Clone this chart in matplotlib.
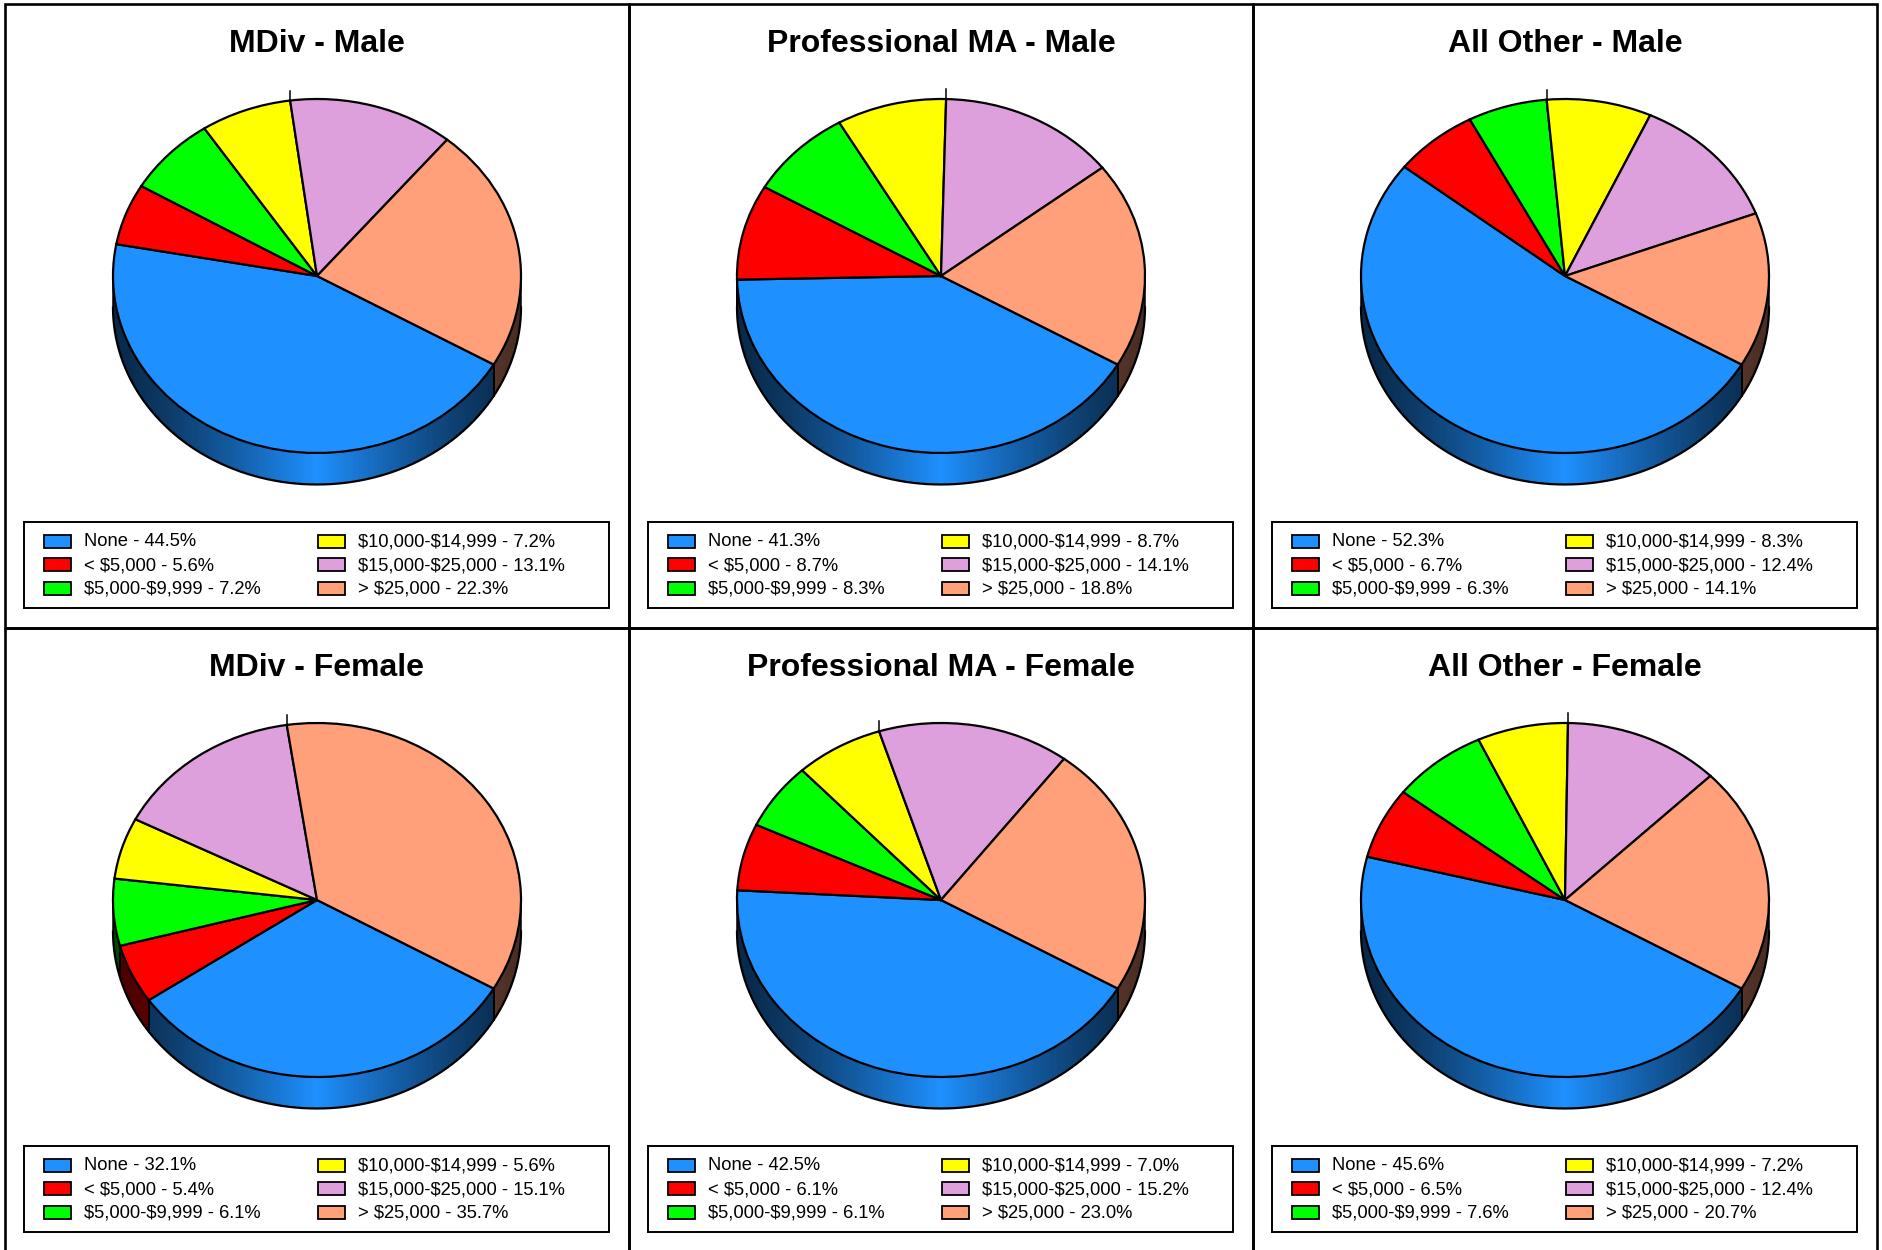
import numpy as np
import matplotlib
matplotlib.use('Agg')
import matplotlib.pyplot as plt
from matplotlib.collections import PolyCollection
from matplotlib.colors import to_rgb
from matplotlib.patches import Rectangle

plt.rcParams['font.family'] = ['Liberation Sans', 'DejaVu Sans']

categories = ['None', '< $5,000', '$5,000-$9,999', '$10,000-$14,999', '$15,000-$25,000', '> $25,000']
colors = ['#1E90FF', '#FF0000', '#00FF00', '#FFFF00', '#DDA0DD', '#FFA07A']

titles = ['MDiv - Male', 'Professional MA - Male', 'All Other - Male',
          'MDiv - Female', 'Professional MA - Female', 'All Other - Female']

mdiv_male = [44.5, 5.6, 7.2, 7.2, 13.1, 22.3]
prof_male = [41.3, 8.7, 8.3, 8.7, 14.1, 18.8]
other_male = [52.3, 6.7, 6.3, 8.3, 12.4, 14.1]
mdiv_female = [32.1, 5.4, 6.1, 5.6, 15.1, 35.7]
prof_female = [42.5, 6.1, 6.1, 7.0, 15.2, 23.0]
other_female = [45.6, 6.5, 7.6, 7.2, 12.4, 20.7]
panels = [mdiv_male, prof_male, other_male, mdiv_female, prof_female, other_female]

W, H = 1882, 1250
CELL = 624
RX, RY = 204, 177
DEPTH = 31.5 / RY
START = -30
LW = 1.6

fig = plt.figure(figsize=(W / 100, H / 100), dpi=100, facecolor='white')


def shade(x):
    # walls are brightest under the middle of the pie
    return 0.28 + 0.72 * (1 - abs(x)) ** 1.3


def draw_pie(ax, values):
    ax.pie(values, colors=colors, startangle=START, counterclock=False, radius=1,
           wedgeprops=dict(edgecolor='black', linewidth=LW, zorder=3))
    ax.set_aspect('auto')

    sweep = np.array(values) / sum(values) * 360
    ends = START - np.cumsum(sweep)
    starts = ends + sweep

    # side wall, only the part of each slice facing down
    for a0, a1, col in zip(starts, ends, colors):
        for low, high in [(-180, 0), (-540, -360)]:
            lo, hi = max(a1, low), min(a0, high)
            if hi <= lo:
                continue
            th = np.radians(np.linspace(lo, hi, int((hi - lo) * 2) + 2))
            x, y = np.cos(th), np.sin(th)
            polys = [[(x[i], y[i]), (x[i + 1], y[i + 1]), (x[i + 1], y[i + 1] - DEPTH), (x[i], y[i] - DEPTH)]
                     for i in range(len(th) - 1)]
            rgb = np.array(to_rgb(col))
            fc = [rgb * shade((x[i] + x[i + 1]) / 2) for i in range(len(th) - 1)]
            ax.add_collection(PolyCollection(polys, facecolors=fc, edgecolors='none', linewidths=0,
                                             antialiaseds=False, zorder=1))
            for edge in [th[0], th[-1]]:
                ax.plot([np.cos(edge)] * 2, [np.sin(edge), np.sin(edge) - DEPTH], color='black', lw=1.1, zorder=2)

    th = np.radians(np.linspace(-180, 0, 361))
    ax.plot(np.cos(th), np.sin(th) - DEPTH, color='black', lw=LW, zorder=2)

    # little spike the renderer leaves at the slice edge nearest the top
    top = min(ends, key=lambda a: abs((a % 360) - 90))
    t = np.radians(top)
    ax.plot([np.cos(t)] * 2, [np.sin(t), np.sin(t) + 0.056], color='black', lw=1.1, zorder=4)


ov = fig.add_axes([0, 0, 1, 1], zorder=5)
ov.set_xlim(0, W)
ov.set_ylim(H, 0)
ov.axis('off')
ov.patch.set_alpha(0)

for n, (title, values) in enumerate(zip(titles, panels)):
    col, row = n % 3, n // 3
    x0, y0 = 5 + col * CELL, 4 + row * CELL
    cx, cy = x0 + 312, y0 + 272

    ax = fig.add_axes([(cx - RX) / W, 1 - (cy + RY) / H, 2 * RX / W, 2 * RY / H], zorder=1)
    draw_pie(ax, values)
    ax.set_xlim(-1, 1)
    ax.set_ylim(-1, 1)
    for art in ax.get_children():
        art.set_clip_on(False)

    ov.add_patch(Rectangle((x0, y0), CELL, CELL, fill=False, edgecolor='black', lw=1.9))
    ov.text(x0 + 312, y0 + 39.5, title, ha='center', va='center', fontsize=23, fontweight='bold', color='black')

    # legend box
    lx, ly = x0 + 19.5, y0 + 517.5
    ov.add_patch(Rectangle((lx, ly), 584.5, 86.5, facecolor='white', edgecolor='black', lw=1.4))
    for i, (cat, val, c) in enumerate(zip(categories, values, colors)):
        sx = lx + (19.5 if i < 3 else 293.5)
        sy = ly + 19.5 + (i % 3) * 23.7
        ov.add_patch(Rectangle((sx, sy - 6.5), 27.5, 13, facecolor=c, edgecolor='black', lw=1.3))
        ov.text(sx + 40, sy + 1, f'{cat} - {val:.1f}%', ha='left', va='center', fontsize=13.2, color='black',
                parse_math=False)

fig.savefig('out.png', dpi=100, facecolor='white')
